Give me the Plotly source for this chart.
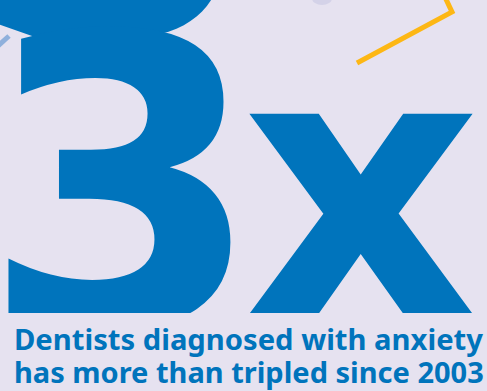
import plotly.graph_objects as go

# ---- content ----
headline_parts = ["3", "x"]
caption_lines = ["Dentists diagnosed with anxiety", "has more than tripled since 2003"]

BG = "#E6E2F0"
BLUE = "#0074BC"
YELLOW = "#FDB714"

W, H = 487, 391
PLOT_H = 313

fig = go.Figure()

# big "3"
fig.add_trace(go.Scatter(
    x=[122], y=[225], mode="text", text=[headline_parts[0]],
    textposition="middle center",
    textfont=dict(family="DejaVu Sans", size=404, color=BLUE, weight=700),
    cliponaxis=True, hoverinfo="skip", showlegend=False))
# big "x"
fig.add_trace(go.Scatter(
    x=[361], y=[225], mode="text", text=[headline_parts[1]],
    textposition="middle center",
    textfont=dict(family="DejaVu Sans", size=375, color=BLUE, weight=700),
    cliponaxis=True, hoverinfo="skip", showlegend=False))

shapes = [
    # blue blob at the top (part of a larger graphic above)
    dict(type="path", path="M -5 -5 L 214 -5 C 204 14 186 28 160 34 L 100 36 L 52 43 L -5 23 Z",
         xref="x", yref="y", fillcolor=BLUE, line=dict(width=0), layer="below"),
    # yellow decorative line
    dict(type="path", path="M 357 63 L 452 12 L 444 -5", xref="x", yref="y",
         line=dict(color=YELLOW, width=5), layer="above"),
    # light blue dash at left
    dict(type="line", x0=-2, y0=46, x1=9, y1=36, xref="x", yref="y",
         line=dict(color="#8FB0DC", width=5), layer="above"),
    # grey blob at top
    dict(type="circle", x0=312, y0=-8, x1=332, y1=5, xref="x", yref="y",
         fillcolor="#D4D2E8", line=dict(width=0), layer="below"),
]

caption_sizes = [29.2, 29.0]
annotations = []
for i, line in enumerate(caption_lines):
    annotations.append(dict(
        text=line, xref="paper", yref="paper", x=12 / W, y=(PLOT_H - (339 + 33 * i)) / PLOT_H,
        xanchor="left", yanchor="middle", showarrow=False,
        font=dict(family="Noto Sans", size=caption_sizes[i], color=BLUE, weight=700)))

fig.update_layout(
    width=W, height=H,
    margin=dict(l=0, r=0, t=0, b=H - PLOT_H, pad=0),
    paper_bgcolor=BG, plot_bgcolor=BG,
    xaxis=dict(range=[0, W], visible=False, fixedrange=True),
    yaxis=dict(range=[PLOT_H, 0], visible=False, fixedrange=True),
    shapes=shapes, annotations=annotations,
)

fig.write_html("out.html", config={"displayModeBar": False},
               post_script="document.body.style.margin='0';")
